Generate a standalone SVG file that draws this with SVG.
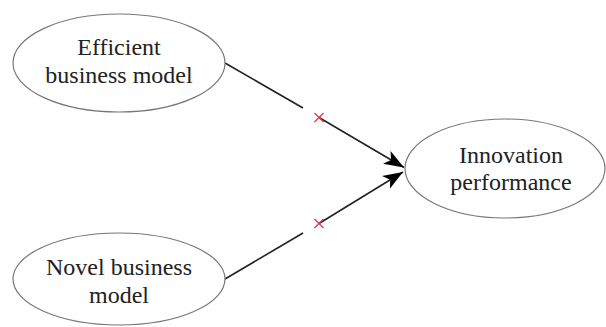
<svg xmlns="http://www.w3.org/2000/svg" width="606" height="327" viewBox="0 0 606 327">
<defs>
<style>
.node ellipse{fill:#fff;stroke:#777;stroke-width:1.2}
.node text{font-family:"Liberation Serif","Times New Roman",serif;font-size:24px;fill:#222;text-anchor:middle}
.edge{stroke:#222;stroke-width:1.6;fill:none}
.cross{stroke:#d9404f;stroke-width:1.4;fill:none}
</style>
<marker id="arrow" markerUnits="userSpaceOnUse" markerWidth="22" markerHeight="18" refX="20" refY="9" orient="auto">
<path d="M0,1.5 L20,9 L0,16.5 L5,9 Z" fill="#000"/>
</marker>
</defs>
<rect width="606" height="327" fill="#fff"/>
<g id="connectors">
<line class="edge" x1="225" y1="63" x2="303" y2="108"/>
<line class="edge" x1="319" y1="117.5" x2="404" y2="167.5" marker-end="url(#arrow)"/>
<path class="cross" d="M314.5,113 L323.5,122 M314.5,122 L323.5,113"/>
<line class="edge" x1="225" y1="279" x2="303" y2="233"/>
<line class="edge" x1="319" y1="223.5" x2="403" y2="172" marker-end="url(#arrow)"/>
<path class="cross" d="M314.5,219 L323.5,228 M314.5,228 L323.5,219"/>
</g>
<g id="efficient" class="node">
<ellipse cx="119" cy="63" rx="106" ry="49"/>
<text x="119" y="55">Efficient</text>
<text x="119" y="83">business model</text>
</g>
<g id="novel" class="node">
<ellipse cx="119" cy="279" rx="106" ry="46"/>
<text x="119" y="275">Novel business</text>
<text x="119" y="303">model</text>
</g>
<g id="innovation" class="node">
<ellipse cx="505" cy="168.5" rx="100" ry="49.5"/>
<text x="511" y="163">Innovation</text>
<text x="511" y="190">performance</text>
</g>
</svg>
